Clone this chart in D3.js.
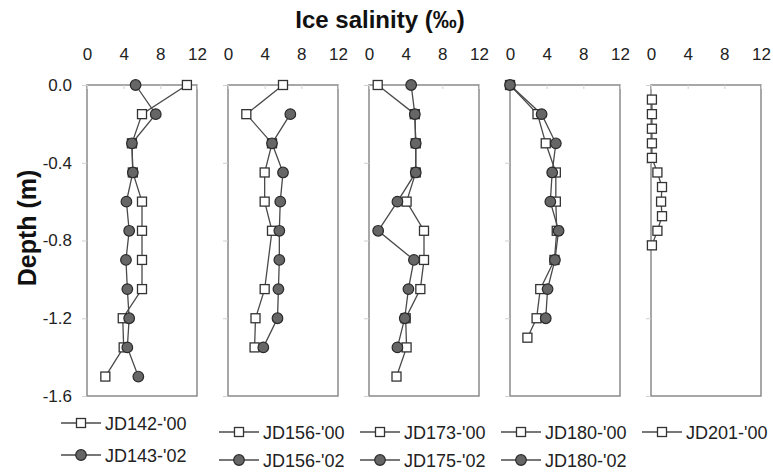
<!DOCTYPE html>
<html>
<head>
<meta charset="utf-8">
<script src="https://cdn.jsdelivr.net/npm/d3@7"></script>
<style>
  body { margin: 0; background: #fff; }
  svg text { font-family: "Liberation Sans", Arial, sans-serif; }
</style>
</head>
<body>
<svg id="chart" width="773" height="472"></svg>
<script>
// depth levels (m)
var depth15 = [0, -0.15, -0.3, -0.45, -0.6, -0.75, -0.9, -1.05, -1.2, -1.35, -1.5];
var depth075 = [-0.075, -0.15, -0.225, -0.3, -0.375, -0.45, -0.525, -0.6, -0.675, -0.75, -0.825];

// panel 1
var jd142_00 = [10.9, 6.0, 4.9, 5.0, 6.0, 6.0, 6.0, 6.0, 3.9, 4.0, 2.0];
var jd143_02 = [5.3, 7.5, 4.9, 5.0, 4.3, 4.6, 4.25, 4.4, 4.6, 4.4, 5.6];
// panel 2
var jd156_00_depth = [0, -0.15, -0.3, -0.45, -0.6, -0.75, -1.05, -1.2, -1.35];
var jd156_00 = [6.0, 2.0, 4.8, 4.0, 4.0, 4.8, 4.0, 3.0, 2.9];
var jd156_02_depth = [-0.15, -0.3, -0.45, -0.6, -0.75, -0.9, -1.05, -1.2, -1.35];
var jd156_02 = [6.8, 4.8, 6.0, 5.7, 5.6, 5.6, 5.5, 5.4, 3.85];
// panel 3
var jd173_00 = [0.95, 5.0, 5.1, 5.1, 4.1, 6.0, 6.0, 5.6, 4.0, 4.1, 3.0];
var jd175_02 = [4.6, 5.0, 5.1, 5.1, 3.1, 1.0, 4.9, 4.3, 3.9, 3.1];
// panel 4
var jd180_00_depth = [0, -0.15, -0.3, -0.45, -0.6, -0.75, -0.9, -1.05, -1.2, -1.3];
var jd180_00 = [0, 3.0, 3.9, 5.0, 5.0, 5.1, 4.85, 3.3, 2.9, 1.9];
var jd180_02 = [0, 3.45, 5.0, 4.6, 4.4, 5.3, 4.9, 4.1, 3.9];
// panel 5
var jd201_00 = [0.1, 0.1, 0.1, 0.1, 0.1, 0.7, 1.2, 1.1, 1.2, 0.7, 0.1];

var xTicks = [0, 4, 8, 12];
var yTicks = [0, -0.4, -0.8, -1.2, -1.6];

function pts(vals, deps) {
    return vals.map(function (v, i) { return { s: v, d: deps[i] }; });
}

// square series first, circle series drawn over them
var panels = [
    { sq: { name: "JD142-'00", data: pts(jd142_00, depth15) },
      ci: { name: "JD143-'02", data: pts(jd143_02, depth15) }, legY: [423, 455], legX: 61 },
    { sq: { name: "JD156-'00", data: pts(jd156_00, jd156_00_depth) },
      ci: { name: "JD156-'02", data: pts(jd156_02, jd156_02_depth) }, legY: [432, 460], legX: 219 },
    { sq: { name: "JD173-'00", data: pts(jd173_00, depth15) },
      ci: { name: "JD175-'02", data: pts(jd175_02, depth15) }, legY: [432, 460], legX: 360 },
    { sq: { name: "JD180-'00", data: pts(jd180_00, jd180_00_depth) },
      ci: { name: "JD180-'02", data: pts(jd180_02, depth15) }, legY: [432, 460], legX: 501 },
    { sq: { name: "JD201-'00", data: pts(jd201_00, depth075) },
      ci: null, legY: [432, 460], legX: 642 }
];

var svg = d3.select("#chart");
var top0 = 85, bot0 = 396, pw = 110, gap = 141, left0 = 87;
var lineCol = "#4a4a4a", frameCol = "#8a8a8a";

var y = d3.scaleLinear().domain([0, -1.6]).range([top0, bot0]);

function drawSquares(g, data, x) {
    g.selectAll("rect.m").data(data).enter().append("rect")
        .attr("class", "m")
        .attr("x", function (d) { return x(d.s) - 4.5; })
        .attr("y", function (d) { return y(d.d) - 4.5; })
        .attr("width", 9).attr("height", 9)
        .attr("fill", "#fff").attr("stroke", "#333").attr("stroke-width", 1.3);
}
function drawCircles(g, data, x) {
    g.selectAll("circle.m").data(data).enter().append("circle")
        .attr("class", "m")
        .attr("cx", function (d) { return x(d.s); })
        .attr("cy", function (d) { return y(d.d); })
        .attr("r", 5.3)
        .attr("fill", "#666").attr("stroke", "#2a2a2a").attr("stroke-width", 1.2);
}

panels.forEach(function (p, i) {
    var L = left0 + i * gap;
    var x = d3.scaleLinear().domain([0, 12]).range([L, L + pw]);
    var g = svg.append("g");

    // frame
    g.append("rect").attr("x", L).attr("y", top0).attr("width", pw).attr("height", bot0 - top0)
        .attr("fill", "none").attr("stroke", frameCol).attr("stroke-width", 1.5);

    // top axis
    var ax = g.append("g").attr("transform", "translate(0," + top0 + ")")
        .call(d3.axisTop(x).tickValues(xTicks).tickSize(-4).tickPadding(25));
    ax.select(".domain").remove();
    ax.selectAll("line").attr("stroke", "#d0d0d0");
    ax.selectAll("text").attr("font-size", 17).attr("fill", "#222")
        .style("font-family", "Liberation Sans, Arial, sans-serif");

    // left axis
    var ay = g.append("g").attr("transform", "translate(" + L + ",0)")
        .call(d3.axisLeft(y).tickValues(yTicks).tickSize(5).tickPadding(10)
            .tickFormat(function (d) { return i == 0 ? d.toFixed(1) : ""; }));
    ay.select(".domain").remove();
    ay.selectAll("line").attr("stroke", "#d0d0d0");
    ay.selectAll("text").attr("font-size", 17).attr("fill", "#222")
        .style("font-family", "Liberation Sans, Arial, sans-serif");

    var line = d3.line().x(function (d) { return x(d.s); }).y(function (d) { return y(d.d); });

    g.append("path").datum(p.sq.data).attr("d", line)
        .attr("fill", "none").attr("stroke", lineCol).attr("stroke-width", 1.3);
    if (p.ci) {
        g.append("path").datum(p.ci.data).attr("d", line)
            .attr("fill", "none").attr("stroke", lineCol).attr("stroke-width", 1.3);
    }
    drawSquares(g, p.sq.data, x);
    if (p.ci) drawCircles(g, p.ci.data, x);

    // legend
    var items = [{ s: p.sq, type: "sq" }];
    if (p.ci) items.push({ s: p.ci, type: "ci" });
    items.forEach(function (it, k) {
        var ly = p.legY[k], lx = p.legX;
        var lg = svg.append("g");
        lg.append("line").attr("x1", lx).attr("x2", lx + 40).attr("y1", ly).attr("y2", ly)
            .attr("stroke", lineCol).attr("stroke-width", 1.3);
        if (it.type == "sq") {
            lg.append("rect").attr("x", lx + 15.5).attr("y", ly - 4.5).attr("width", 9).attr("height", 9)
                .attr("fill", "#fff").attr("stroke", "#333").attr("stroke-width", 1.3);
        } else {
            lg.append("circle").attr("cx", lx + 20).attr("cy", ly).attr("r", 5.3)
                .attr("fill", "#666").attr("stroke", "#2a2a2a").attr("stroke-width", 1.2);
        }
        lg.append("text").attr("x", lx + 44).attr("y", ly + 6.5)
            .attr("font-size", 18).attr("fill", "#222").text(it.s.name);
    });
});

// titles
svg.append("text").attr("x", 380).attr("y", 28).attr("text-anchor", "middle")
    .attr("font-size", 24).attr("font-weight", "bold").attr("fill", "#111")
    .text("Ice salinity (‰)");
svg.append("text").attr("transform", "translate(36,228) rotate(-90)")
    .attr("text-anchor", "middle")
    .attr("font-size", 25).attr("font-weight", "bold").attr("fill", "#111")
    .text("Depth (m)");
</script>
</body>
</html>
